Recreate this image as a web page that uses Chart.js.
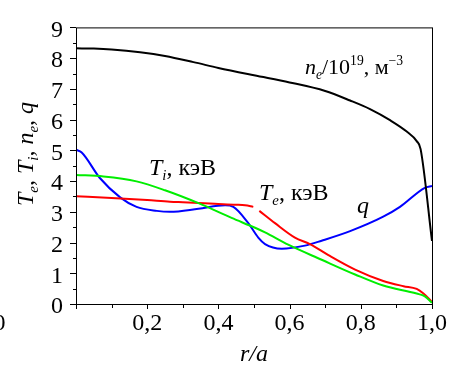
<!DOCTYPE html>
<html>
<head>
<meta charset="utf-8">
<script src="https://cdn.jsdelivr.net/npm/chart.js@4.4.0/dist/chart.umd.min.js"></script>
<style>
  html, body { margin: 0; padding: 0; background: #fff; }
  #wrap { width: 463px; height: 365px; position: relative; }
</style>
</head>
<body>
<div id="wrap"><canvas id="c" width="463" height="365"></canvas></div>
<script>
// профили по r/a
const neR = [0, 0.05, 0.1, 0.18, 0.25, 0.33, 0.4, 0.5, 0.6, 0.7, 0.77, 0.826, 0.882, 0.929, 0.957, 0.968, 1.0];
const neVal = [8.32, 8.31, 8.28, 8.19, 8.07, 7.87, 7.68, 7.44, 7.21, 6.93, 6.62, 6.34, 5.98, 5.61, 5.30, 5.04, 2.05];

const teR = [0, 0.1, 0.2, 0.264, 0.3, 0.39, 0.45, 0.475, 0.498, 0.506, 0.515, 0.559, 0.615, 0.657, 0.709, 0.784, 0.863, 0.92, 0.957, 0.976, 1.0];
const teVal = [3.51, 3.45, 3.38, 3.33, 3.31, 3.26, 3.23, 3.21, 3.16, null, 3.03, 2.63, 2.16, 1.95, 1.59, 1.12, 0.75, 0.58, 0.49, 0.34, 0.07];

const tiR = [0, 0.077, 0.17, 0.25, 0.344, 0.437, 0.503, 0.531, 0.596, 0.69, 0.784, 0.863, 0.957, 0.98, 1.0];
const tiVal = [4.2, 4.15, 3.99, 3.70, 3.28, 2.80, 2.48, 2.33, 1.93, 1.44, 0.96, 0.60, 0.34, 0.25, 0.04];

const qR = [0, 0.016, 0.067, 0.124, 0.17, 0.227, 0.264, 0.344, 0.419, 0.442, 0.484, 0.512, 0.531, 0.578, 0.643, 0.69, 0.77, 0.863, 0.91, 0.98, 1.0];
const qVal = [5.02, 4.93, 4.1, 3.47, 3.16, 3.03, 3.0, 3.1, 3.21, 3.16, 2.63, 2.16, 1.95, 1.80, 1.90, 2.06, 2.37, 2.84, 3.16, 3.78, 3.84];

const xTickStep = 0.1;
const yTickStep = 0.5;

const FONT = '"Liberation Serif", "Times New Roman", serif';
const FS = 24;

function pts(xs, ys) {
  return xs.map((x, i) => ({ x: x, y: ys[i] }));
}

// строка из кусочков: курсив, нижние и верхние индексы
function runsWidth(ctx, runs, size) {
  let w = 0;
  runs.forEach(r => {
    const sz = r.s ? size * 0.62 : size;
    ctx.font = (r.i ? 'italic ' : '') + sz + 'px ' + FONT;
    w += ctx.measureText(r.t).width;
  });
  return w;
}
function drawRuns(ctx, runs, x, y, size) {
  let cx = x;
  runs.forEach(r => {
    const sz = r.s ? size * 0.62 : size;
    ctx.font = (r.i ? 'italic ' : '') + sz + 'px ' + FONT;
    const dy = r.s === 'sub' ? size * 0.22 : (r.s === 'sup' ? -size * 0.4 : 0);
    ctx.fillText(r.t, cx, y + dy);
    cx += ctx.measureText(r.t).width;
  });
}

const decor = {
  id: 'decor',
  afterDraw(chart) {
    const ctx = chart.ctx;
    const xs = chart.scales.x, ys = chart.scales.y;
    const a = chart.chartArea;
    ctx.save();
    ctx.fillStyle = '#000';
    ctx.strokeStyle = '#000';
    ctx.lineWidth = 1;
    ctx.textBaseline = 'alphabetic';
    ctx.textAlign = 'left';

    // рамка
    ctx.strokeRect(a.left + 0.5, a.top + 0.5, a.right - a.left, a.bottom - a.top);

    // засечки по y (наружу)
    ctx.beginPath();
    for (let v = 0; v <= 9.001; v += yTickStep) {
      const py = Math.round(ys.getPixelForValue(v)) + 0.5;
      const major = Math.abs(v - Math.round(v)) < 1e-6;
      ctx.moveTo(a.left, py);
      ctx.lineTo(a.left - (major ? 6 : 3), py);
    }
    // засечки по x (вниз)
    for (let i = 0; i <= 10; i++) {
      const px = Math.round(xs.getPixelForValue(i * xTickStep)) + 0.5;
      ctx.moveTo(px, a.bottom);
      ctx.lineTo(px, a.bottom + (i % 2 === 0 ? 5 : 4));
    }
    ctx.stroke();

    // подписи кривых
    const lab = (runs, r, v, size) => drawRuns(ctx, runs, xs.getPixelForValue(r), ys.getPixelForValue(v), size);
    lab([{ t: 'n', i: 1 }, { t: 'e', i: 1, s: 'sub' }, { t: '/10' }, { t: '19', s: 'sup' }, { t: ', м' }, { t: '\u22123', s: 'sup' }], 0.643, 7.49, 22);
    lab([{ t: 'T', i: 1 }, { t: 'i', i: 1, s: 'sub' }, { t: ', кэВ' }], 0.205, 4.2, FS);
    lab([{ t: 'T', i: 1 }, { t: 'e', i: 1, s: 'sub' }, { t: ', кэВ' }], 0.514, 3.38, FS);
    lab([{ t: 'q', i: 1 }], 0.789, 2.95, FS);

    // подпись оси x
    const xt = [{ t: 'r/a', i: 1 }];
    const xw = runsWidth(ctx, xt, FS);
    drawRuns(ctx, xt, (a.left + a.right) / 2 - xw / 2, 361, FS);

    // подпись оси y (повёрнута)
    const yt = [
      { t: 'T', i: 1 }, { t: 'e', i: 1, s: 'sub' }, { t: ', ' },
      { t: 'T', i: 1 }, { t: 'i', i: 1, s: 'sub' }, { t: ', ' },
      { t: 'n', i: 1 }, { t: 'e', i: 1, s: 'sub' }, { t: ', ' },
      { t: 'q', i: 1 }
    ];
    const yw = runsWidth(ctx, yt, FS);
    ctx.save();
    ctx.translate(33, 154);
    ctx.rotate(-Math.PI / 2);
    drawRuns(ctx, yt, -yw / 2, 0, FS);
    ctx.restore();

    // обрезанная подпись у левого края
    ctx.font = FS + 'px ' + FONT;
    ctx.textAlign = 'right';
    ctx.fillText('0,0', xs.getPixelForValue(-0.198), 330);

    ctx.restore();
  }
};

const line = (data, color) => ({
  data: data,
  borderColor: color,
  borderWidth: 2,
  pointRadius: 0,
  fill: false,
  spanGaps: false,
  cubicInterpolationMode: 'monotone'
});

new Chart(document.getElementById('c'), {
  type: 'line',
  data: {
    datasets: [
      line(pts(neR, neVal), '#000000'),
      line(pts(tiR, tiVal), '#00ee00'),
      line(pts(teR, teVal), '#ff0000'),
      line(pts(qR, qVal), '#0000ff')
    ]
  },
  options: {
    responsive: false,
    animation: false,
    events: [],
    layout: { padding: { left: 0, top: 17, right: 31, bottom: 0 } },
    plugins: { legend: { display: false }, tooltip: { enabled: false } },
    scales: {
      x: {
        type: 'linear',
        min: 0,
        max: 1,
        afterFit: s => { s.height = 61; },
        grid: { display: false, drawTicks: false },
        border: { display: false },
        ticks: {
          stepSize: 0.2,
          autoSkip: false,
          maxRotation: 0,
          padding: 5,
          color: '#000',
          font: { family: FONT, size: FS },
          callback: v => (Math.abs(v) < 1e-9 ? '' : Number(v).toFixed(1).replace('.', ','))
        }
      },
      y: {
        min: 0,
        max: 9,
        afterFit: s => { s.width = 76; },
        grid: { display: false, drawTicks: false },
        border: { display: false },
        ticks: {
          stepSize: 1,
          autoSkip: false,
          padding: 13,
          labelOffset: 3,
          color: '#000',
          font: { family: FONT, size: FS },
          callback: v => String(v)
        }
      }
    }
  },
  plugins: [decor]
});
</script>
</body>
</html>
